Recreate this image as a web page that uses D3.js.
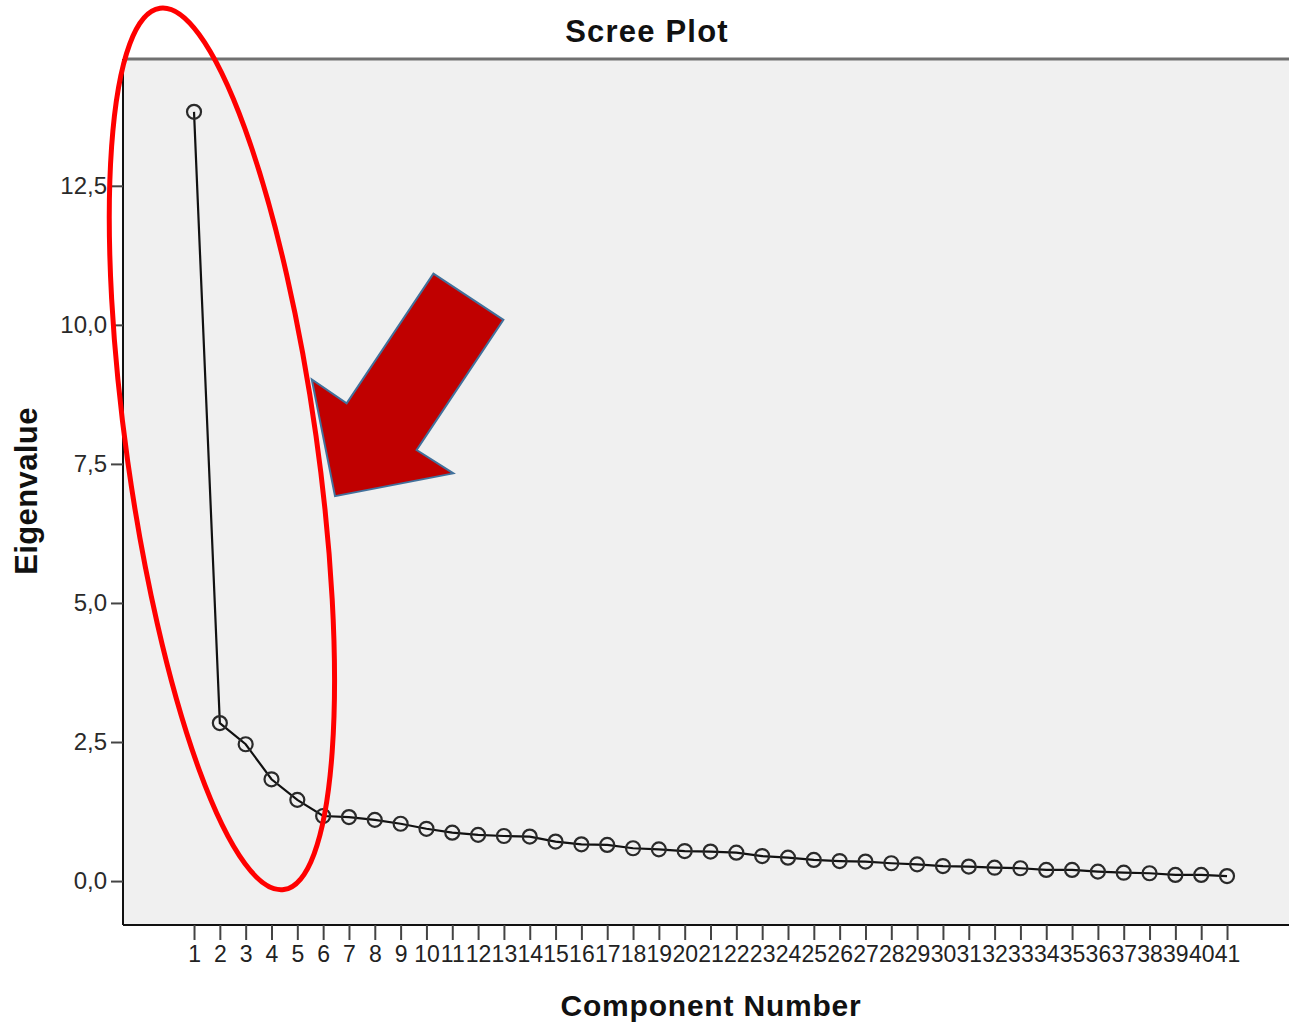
<!DOCTYPE html>
<html>
<head>
<meta charset="utf-8">
<script src="https://cdn.jsdelivr.net/npm/d3@7"></script>
<style>
    body { margin: 0; background: #fff; }
    text { font-family: "Liberation Sans", Arial, sans-serif; }
</style>
</head>
<body>
<svg id="screeSvg" width="1289" height="1022"></svg>
<script>
var components = [1, 2, 3, 4, 5, 6, 7, 8, 9, 10, 11, 12, 13, 14, 15, 16, 17, 18, 19, 20,
    21, 22, 23, 24, 25, 26, 27, 28, 29, 30, 31, 32, 33, 34, 35, 36, 37, 38, 39, 40, 41];
var eigenvalues = [13.83, 2.84, 2.46, 1.83, 1.46, 1.17, 1.15, 1.10, 1.03, 0.94,
    0.87, 0.83, 0.81, 0.80, 0.71, 0.66, 0.65, 0.59, 0.57, 0.54,
    0.53, 0.51, 0.45, 0.42, 0.38, 0.36, 0.35, 0.32, 0.30, 0.27,
    0.26, 0.24, 0.23, 0.20, 0.20, 0.17, 0.15, 0.14, 0.11, 0.11, 0.09];
var yTicks = [0, 2.5, 5, 7.5, 10, 12.5];

// annotation shapes, in data units (component, eigenvalue)
var arrowPoints = [[10.27, 10.92], [12.98, 10.09], [9.62, 7.75], [11.04, 7.33],
    [6.46, 6.92], [5.56, 9.02], [6.91, 8.59]];
var ellipseCenter = [2.08, 7.77];

var svg = d3.select("#screeSvg");
var plot = {left: 123, right: 1289, top: 59, bottom: 925};

var x = d3.scaleLinear()
        .domain([-1.75, 43.4])
        .range([plot.left, plot.right]);

var y = d3.scaleLinear()
        .domain([-0.79, 14.78])
        .range([plot.bottom, plot.top]);

var fmt = d3.formatLocale({decimal: ",", thousands: ".", grouping: [3], currency: ["", ""]}).format(".1f");

svg.append("rect")
        .attr("x", plot.left)
        .attr("y", plot.top)
        .attr("width", plot.right - plot.left)
        .attr("height", plot.bottom - plot.top)
        .attr("fill", "#f0f0f0");

svg.append("line")
        .attr("x1", plot.left).attr("x2", plot.right)
        .attr("y1", plot.top).attr("y2", plot.top)
        .attr("stroke", "#707070")
        .attr("stroke-width", 3);

var yAxis = svg.append("g")
        .attr("transform", "translate(" + plot.left + ",0)")
        .call(d3.axisLeft(y).tickValues(yTicks).tickFormat(fmt).tickSize(12).tickPadding(4));
yAxis.select(".domain")
        .attr("d", "M0," + plot.top + "V" + plot.bottom)
        .attr("stroke", "#111")
        .attr("stroke-width", 2);
yAxis.selectAll(".tick line").attr("stroke", "#444").attr("stroke-width", 2);
yAxis.selectAll(".tick text")
        .attr("font-size", 24)
        .attr("font-family", "Liberation Sans, Arial, sans-serif")
        .attr("fill", "#2a2a2a");

var xAxis = svg.append("g")
        .attr("transform", "translate(0," + plot.bottom + ")")
        .call(d3.axisBottom(x).tickValues(components).tickFormat(d3.format("d")).tickSize(15).tickPadding(6));
xAxis.select(".domain")
        .attr("d", "M" + plot.left + ",0H" + plot.right)
        .attr("stroke", "#111")
        .attr("stroke-width", 2);
xAxis.selectAll(".tick line").attr("stroke", "#444").attr("stroke-width", 2);
xAxis.selectAll(".tick text")
        .attr("font-size", 23)
        .attr("font-family", "Liberation Sans, Arial, sans-serif")
        .attr("fill", "#222");

var line = d3.line()
        .x(function (d, i) {
            return x(components[i]);
        })
        .y(function (d) {
            return y(d);
        });

svg.append("path")
        .datum(eigenvalues)
        .attr("d", line)
        .attr("fill", "none")
        .attr("stroke", "#111")
        .attr("stroke-width", 2.2);

svg.append("g")
        .selectAll("circle")
        .data(eigenvalues)
        .enter()
        .append("circle")
        .attr("cx", function (d, i) { return x(components[i]); })
        .attr("cy", function (d) { return y(d); })
        .attr("r", 7)
        .attr("fill", "none")
        .attr("stroke", "#2a2a2a")
        .attr("stroke-width", 2.2);

svg.append("text")
        .attr("x", 647)
        .attr("y", 42)
        .attr("text-anchor", "middle")
        .attr("font-size", 31)
        .attr("font-weight", "bold")
        .attr("letter-spacing", 1.2)
        .attr("fill", "#111")
        .text("Scree Plot");

svg.append("text")
        .attr("x", 711)
        .attr("y", 1016)
        .attr("text-anchor", "middle")
        .attr("font-size", 30)
        .attr("font-weight", "bold")
        .attr("letter-spacing", 0.8)
        .attr("fill", "#111")
        .text("Component Number");

svg.append("text")
        .attr("transform", "translate(37,491) rotate(-90)")
        .attr("text-anchor", "middle")
        .attr("font-size", 31)
        .attr("font-weight", "bold")
        .attr("letter-spacing", 0.4)
        .attr("fill", "#111")
        .text("Eigenvalue");

// red ellipse round the steep part
svg.append("ellipse")
        .attr("transform", "translate(" + x(ellipseCenter[0]) + "," + y(ellipseCenter[1]) + ") rotate(-8)")
        .attr("rx", 95)
        .attr("ry", 445)
        .attr("fill", "none")
        .attr("stroke", "#ff0000")
        .attr("stroke-width", 5);

svg.append("polygon")
        .attr("points", arrowPoints.map(function (p) {
            return x(p[0]) + "," + y(p[1]);
        }).join(" "))
        .attr("fill", "#c00000")
        .attr("stroke", "#41719c")
        .attr("stroke-width", 2);
</script>
</body>
</html>
